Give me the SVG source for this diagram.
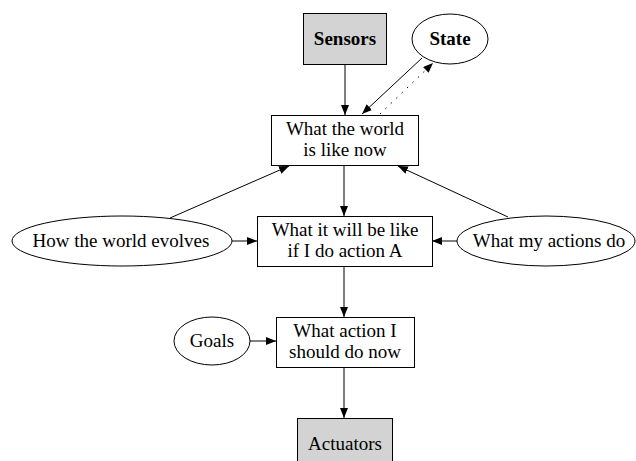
<svg xmlns="http://www.w3.org/2000/svg" width="636" height="461" viewBox="0 0 636 461">
  <defs>
    <marker id="arrow" viewBox="0 0 10 8" refX="10" refY="4" markerWidth="10" markerHeight="8" markerUnits="userSpaceOnUse" orient="auto">
      <path d="M0,0 L10,4 L0,8 Z" fill="#000"/>
    </marker>
    <style>
      .box { fill: #ffffff; stroke: #000; stroke-width: 1; }
      .io { fill: #d3d3d3; stroke: #000; stroke-width: 1; }
      .ell { fill: #ffffff; stroke: #000; stroke-width: 1; }
      .lbl { font-size: 19px; fill: #000; text-anchor: middle; }
      .bold { font-weight: bold; }
      .edge { stroke: #000; stroke-width: 1; fill: none; marker-end: url(#arrow); }
      .dotted { stroke-dasharray: 1.5 6; }
    </style>
  </defs>
  <rect width="636" height="461" fill="#ffffff"/>

  <g id="connectors">
    <line class="edge" x1="345" y1="64" x2="345" y2="115"/>
    <line class="edge" x1="422" y1="58" x2="362" y2="114"/>
    <line class="edge dotted" x1="380" y1="114" x2="433" y2="63"/>
    <line class="edge" x1="344" y1="165" x2="344" y2="216"/>
    <line class="edge" x1="170" y1="218" x2="289" y2="166"/>
    <line class="edge" x1="508" y1="217" x2="398" y2="166"/>
    <line class="edge" x1="232" y1="241" x2="257" y2="241"/>
    <line class="edge" x1="457" y1="241" x2="432" y2="241"/>
    <line class="edge" x1="344" y1="266" x2="344" y2="317"/>
    <line class="edge" x1="250" y1="341" x2="276" y2="341"/>
    <line class="edge" x1="344" y1="367" x2="344" y2="418"/>
  </g>

  <g font-family="Liberation Serif, DejaVu Serif, serif">
  <g id="sensors">
    <rect class="io" x="303.5" y="13.5" width="83" height="51"/>
    <text class="lbl bold" x="345" y="45">Sensors</text>
  </g>

  <g id="state">
    <ellipse class="ell" cx="450" cy="39" rx="38" ry="25"/>
    <text class="lbl bold" x="450" y="45">State</text>
  </g>

  <g id="world-now">
    <rect class="box" x="271.5" y="115.5" width="147" height="50"/>
    <text class="lbl" x="345" y="135">What the world</text>
    <text class="lbl" x="345" y="156">is like now</text>
  </g>

  <g id="world-evolves">
    <ellipse class="ell" cx="122" cy="241" rx="110" ry="25"/>
    <text class="lbl" x="121" y="247">How the world evolves</text>
  </g>

  <g id="action-effect">
    <rect class="box" x="257.5" y="216.5" width="175" height="50"/>
    <text class="lbl" x="345" y="236">What it will be like</text>
    <text class="lbl" x="345" y="257">if I do action A</text>
  </g>

  <g id="my-actions">
    <ellipse class="ell" cx="546" cy="241" rx="89" ry="25"/>
    <text class="lbl" x="549" y="247">What my actions do</text>
  </g>

  <g id="goals">
    <ellipse class="ell" cx="212" cy="341" rx="38" ry="24"/>
    <text class="lbl" x="212" y="347">Goals</text>
  </g>

  <g id="choose-action">
    <rect class="box" x="276.5" y="317.5" width="138" height="50"/>
    <text class="lbl" x="345" y="337">What action I</text>
    <text class="lbl" x="345" y="358">should do now</text>
  </g>

  <g id="actuators">
    <rect class="io" x="297.5" y="418.5" width="95" height="51"/>
    <text class="lbl" x="345" y="450">Actuators</text>
  </g>
  </g>
</svg>
